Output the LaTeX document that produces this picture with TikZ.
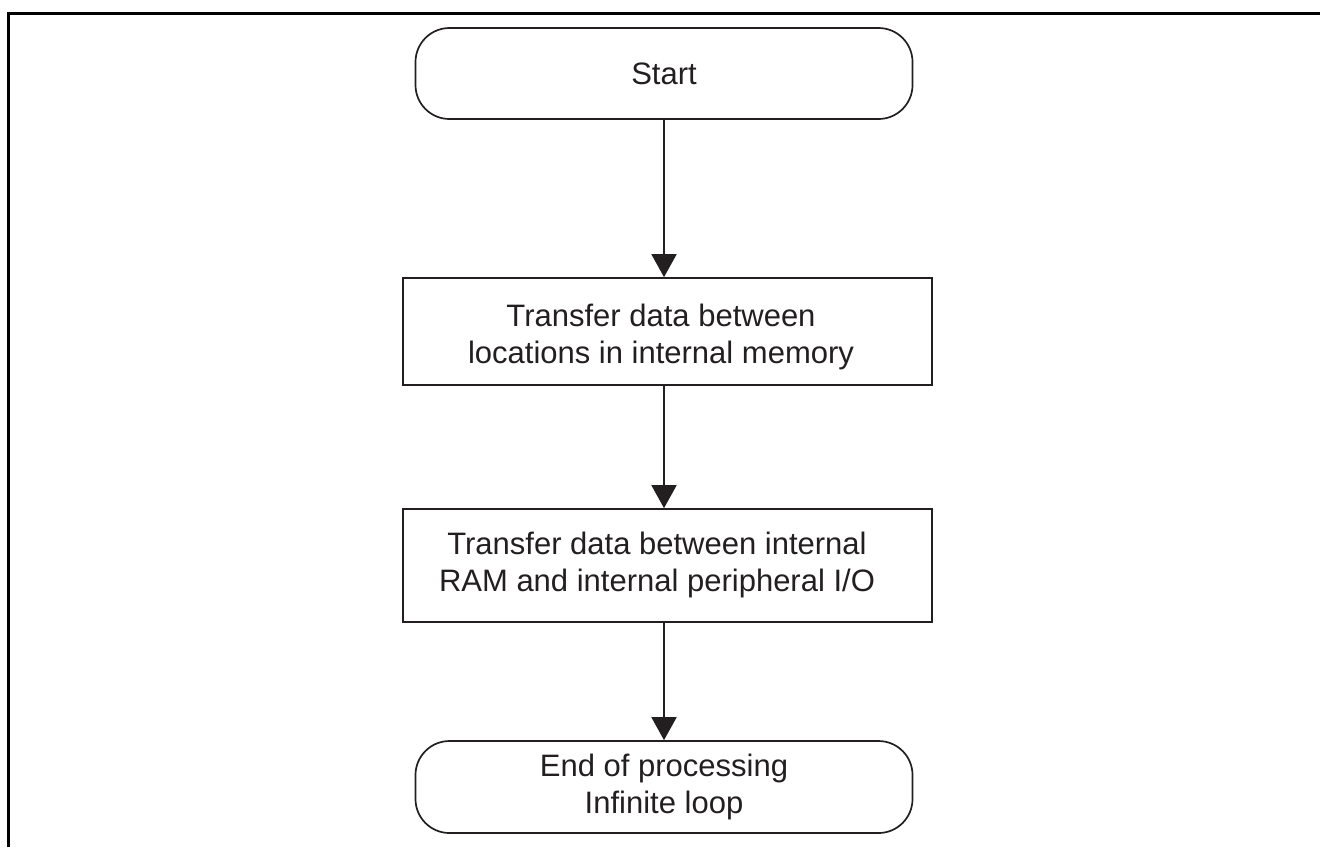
\documentclass[tikz,border=0pt]{standalone}
\usepackage{fontspec}
\setmainfont{Liberation Sans}
\usetikzlibrary{arrows.meta}
\definecolor{ink}{HTML}{231F20}
\begin{document}
\begin{tikzpicture}[x=0.5pt,y=-0.5pt,
  every node/.style={text=ink, font=\fontsize{15.5}{18.5}\selectfont, align=center, inner sep=0pt},
  terminal/.style={draw=ink, line width=0.85pt, rounded corners=17pt,
    minimum width=248.5pt, minimum height=45.5pt},
  procbox/.style={draw=ink, line width=0.85pt, minimum width=264.5pt},
  flow/.style={draw=ink, line width=0.9pt, -{Triangle[width=12.5pt,length=11.5pt]}},
  frame/.style={draw=black, line width=1.5pt}]
\useasboundingbox (0,0) rectangle (1320,847);

% open frame: top and left edges only
\draw[frame] (8,847) -- (8,13) -- (1320,13);

% terminals and process steps
\node[terminal] (start) at (664,73.5) {Start};
\node[procbox, minimum height=53.5pt] (p1) at (667.5,331.5) {};
\node (p1text) at (661,337) {Transfer data between\\locations in internal memory};
\node[procbox, minimum height=56.5pt] (p2) at (667.5,565.5) {};
\node (p2text) at (657,565) {Transfer data between internal\\RAM and internal peripheral I/O};
\node[terminal, minimum height=46pt] (stop) at (664,787) {End of processing\\Infinite loop};

% connectors
\draw[flow] (start.south) -- (start.south |- p1.north);
\draw[flow] (start.south |- p1.south) -- (start.south |- p2.north);
\draw[flow] (start.south |- p2.south) -- (stop.north);
\end{tikzpicture}
\end{document}
